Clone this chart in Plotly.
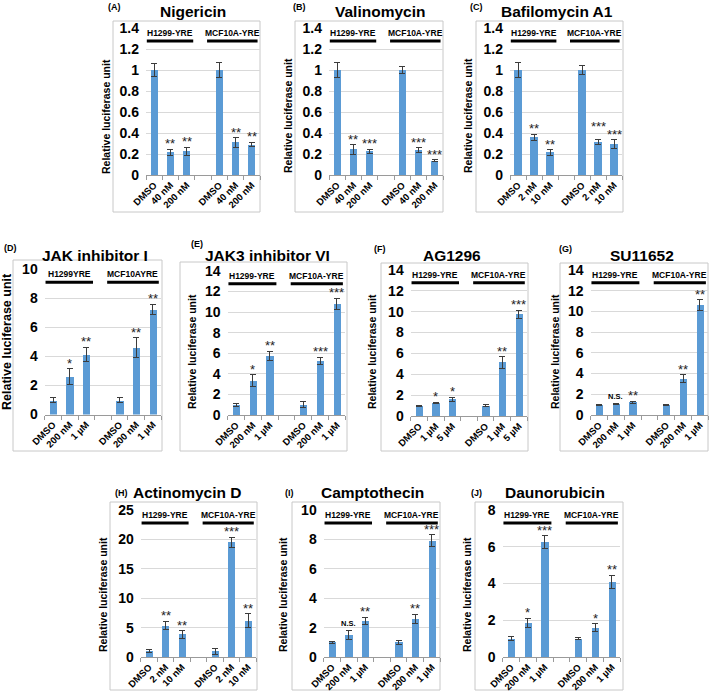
import plotly.graph_objects as go

W, H = 709, 694

# ---------------- data ----------------
titles = ["Nigericin", "Valinomycin", "Bafilomycin A1",
          "JAK inhibitor I", "JAK3 inhibitor VI", "AG1296", "SU11652",
          "Actinomycin D", "Camptothecin", "Daunorubicin"]
letters = ["(A)", "(B)", "(C)", "(D)", "(E)", "(F)", "(G)", "(H)", "(I)", "(J)"]

labels_A = ["DMSO", "40 nM", "200 nM", "DMSO", "40 nM", "200 nM"]
labels_B = ["DMSO", "40 nM", "200 nM", "DMSO", "40 nM", "200 nM"]
labels_C = ["DMSO", "2 nM", "10 nM", "DMSO", "2 nM", "10 nM"]
labels_D = ["DMSO", "200 nM", "1 µM", "DMSO", "200 nM", "1 µM"]
labels_E = ["DMSO", "200 nM", "1 µM", "DMSO", "200 nM", "1 µM"]
labels_F = ["DMSO", "1 µM", "5 µM", "DMSO", "1 µM", "5 µM"]
labels_G = ["DMSO", "200 nM", "1 µM", "DMSO", "200 nM", "1 µM"]
labels_H = ["DMSO", "2 nM", "10 nM", "DMSO", "2 nM", "10 nM"]
labels_I = ["DMSO", "200 nM", "1 µM", "DMSO", "200 nM", "1 µM"]
labels_J = ["DMSO", "200 nM", "1 µM", "DMSO", "200 nM", "1 µM"]

values_A = [1.0, 0.215, 0.225, 1.0, 0.31, 0.29]
errors_A = [0.065, 0.03, 0.04, 0.075, 0.045, 0.02]
stars_A = ["", "**", "**", "", "**", "**"]

values_B = [1.0, 0.245, 0.225, 1.0, 0.235, 0.135]
errors_B = [0.07, 0.045, 0.02, 0.035, 0.025, 0.01]
stars_B = ["", "**", "***", "", "***", "***"]

values_C = [1.0, 0.36, 0.215, 1.0, 0.315, 0.295]
errors_C = [0.075, 0.03, 0.025, 0.045, 0.02, 0.04]
stars_C = ["", "**", "**", "", "***", "***"]

values_D = [1.0, 2.6, 4.15, 1.0, 4.6, 7.25]
errors_D = [0.15, 0.55, 0.5, 0.15, 0.7, 0.35]
stars_D = ["", "*", "**", "", "**", "**"]

values_E = [1.0, 3.35, 5.75, 1.0, 5.25, 10.8]
errors_E = [0.15, 0.55, 0.45, 0.3, 0.35, 0.55]
stars_E = ["", "*", "**", "", "***", "***"]

values_F = [1.0, 1.25, 1.6, 1.0, 5.15, 9.75]
errors_F = [0.05, 0.05, 0.2, 0.1, 0.55, 0.4]
stars_F = ["", "*", "*", "", "**", "***"]

values_G = [1.0, 1.05, 1.25, 1.0, 3.5, 10.6]
errors_G = [0.05, 0.05, 0.1, 0.05, 0.4, 0.55]
stars_G = ["", "N.S.", "**", "", "**", "**"]

values_H = [1.0, 5.35, 3.85, 1.0, 19.5, 6.15]
errors_H = [0.3, 0.7, 0.65, 0.5, 0.9, 1.2]
stars_H = ["", "**", "**", "", "***", "**"]

values_I = [1.0, 1.5, 2.45, 1.0, 2.6, 7.9]
errors_I = [0.05, 0.3, 0.25, 0.15, 0.3, 0.4]
stars_I = ["", "N.S.", "**", "", "**", "***"]

values_J = [1.0, 1.85, 6.25, 1.0, 1.6, 4.1]
errors_J = [0.1, 0.25, 0.35, 0.05, 0.2, 0.35]
stars_J = ["", "*", "***", "", "*", "**"]

groups_std = ["H1299-YRE", "MCF10A-YRE"]
groups_D = ["H1299YRE", "MCF10AYRE"]

yticks_A = [0, 0.2, 0.4, 0.6, 0.8, 1.0, 1.2, 1.4]
yticks_D = [0, 2, 4, 6, 8, 10]
yticks_E = [0, 2, 4, 6, 8, 10, 12, 14]
yticks_H = [0, 5, 10, 15, 20, 25]
yticks_I = [0, 2, 4, 6, 8, 10]
yticks_J = [0, 2, 4, 6, 8]

# x positions of the bars (slot 3 is the gap between cell lines)
xpos = [0, 1, 2, 4, 5, 6]

# ---------------- layout geometry (pixels) ----------------
panels = [
    dict(v=values_A, e=errors_A, s=stars_A, lab=labels_A, yt=yticks_A, g=groups_std,
         plot=(146, 260, 28, 175), frame=(113, 21, 260, 212), title=(193, 12), letter=(106, 7), ytitle=(106, 116), ytsize=10.5),
    dict(v=values_B, e=errors_B, s=stars_B, lab=labels_B, yt=yticks_A, g=groups_std,
         plot=(329, 443, 28, 175), frame=(295, 21, 443, 212), title=(380, 12), letter=(291, 7), ytitle=(288, 116), ytsize=10.5),
    dict(v=values_C, e=errors_C, s=stars_C, lab=labels_C, yt=yticks_A, g=groups_std,
         plot=(510, 622, 28, 175), frame=(476, 21, 623, 212), title=(557, 12), letter=(468, 7), ytitle=(468, 116), ytsize=10.5),
    dict(v=values_D, e=errors_D, s=stars_D, lab=labels_D, yt=yticks_D, g=groups_D,
         plot=(44.7, 161.3, 269.5, 414.5), frame=(13, 260, 162, 451), title=(95, 255), letter=(2, 248), ytitle=(7, 342), ytsize=12.5),
    dict(v=values_E, e=errors_E, s=stars_E, lab=labels_E, yt=yticks_E, g=groups_std,
         plot=(227.6, 345.4, 271, 415), frame=(180, 262, 347, 451), title=(267, 255), letter=(189, 244), ytitle=(192, 352), ytsize=10.5),
    dict(v=values_F, e=errors_F, s=stars_F, lab=labels_F, yt=yticks_E, g=groups_std,
         plot=(410.7, 527.3, 270, 416), frame=(381, 263, 528, 451), title=(452, 255), letter=(372, 249), ytitle=(372, 352), ytsize=10.5),
    dict(v=values_G, e=errors_G, s=stars_G, lab=labels_G, yt=yticks_E, g=groups_std,
         plot=(590.6, 708.4, 270, 415), frame=(560, 263, 708, 451), title=(642, 255), letter=(557, 249), ytitle=(555, 352), ytsize=10.5),
    dict(v=values_H, e=errors_H, s=stars_H, lab=labels_H, yt=yticks_H, g=groups_std,
         plot=(140.75, 256.25, 510, 657), frame=(110, 502, 257, 690), title=(188, 492), letter=(113, 493), ytitle=(103, 595), ytsize=10.5),
    dict(v=values_I, e=errors_I, s=stars_I, lab=labels_I, yt=yticks_I, g=groups_std,
         plot=(323.7, 440.3, 510, 657), frame=(292, 502, 440, 690), title=(372, 492), letter=(283, 493), ytitle=(283, 595), ytsize=10.5),
    dict(v=values_J, e=errors_J, s=stars_J, lab=labels_J, yt=yticks_J, g=groups_std,
         plot=(502.6, 620.4, 510, 657), frame=(475, 502, 623, 690), title=(555, 492), letter=(469, 493), ytitle=(467, 595), ytsize=10.5),
]

# manual lift (px) of a few significance marks, as in the reference
star_lift = {(2, 4): 8}

FONT = "Liberation Sans, Arial, Helvetica, sans-serif"
BAR = "#5B9BD5"

fig = go.Figure()
annotations = []
shapes = []

def px(x):
    return x / W

def py(y):
    return 1 - y / H

for i, p in enumerate(panels):
    n = i + 1
    xa = "x" if n == 1 else f"x{n}"
    ya = "y" if n == 1 else f"y{n}"
    xname = "xaxis" if n == 1 else f"xaxis{n}"
    yname = "yaxis" if n == 1 else f"yaxis{n}"
    L, R, T, B = p["plot"]
    ymax = p["yt"][-1]

    fig.add_trace(go.Bar(
        x=xpos, y=p["v"], xaxis=xa, yaxis=ya, width=0.44,
        marker=dict(color=BAR, line=dict(width=0)),
        error_y=dict(type="data", array=p["e"], visible=True,
                     color="#3c3c3c", thickness=1, width=3),
        showlegend=False, hoverinfo="skip",
    ))

    fig.layout[xname] = dict(
        domain=[px(L), px(R)], anchor=ya, range=[-0.5, 6.5], automargin=False,
        tickmode="array", tickvals=xpos, ticktext=p["lab"], tickangle=-45,
        tickfont=dict(family=FONT, size=9.5, color="black", weight="bold"),
        ticks="", showgrid=False, zeroline=False,
        showline=True, linecolor="#9a9a9a", linewidth=1,
        minor=dict(tickvals=[-0.5, 0.5, 1.5, 2.5, 3.5, 4.5, 5.5, 6.5],
                   ticks="outside", ticklen=4, tickcolor="#9a9a9a", showgrid=False),
        fixedrange=True,
    )
    fig.layout[yname] = dict(
        domain=[py(B), py(T)], anchor=xa, range=[0, ymax], automargin=False,
        tickmode="array", tickvals=p["yt"],
        ticktext=[("%g" % t) for t in p["yt"]],
        tickfont=dict(family=FONT, size=14, color="black", weight="bold"),
        ticks="", ticklabelstandoff=6,
        showgrid=True, gridcolor="#d9d9d9", gridwidth=1,
        zeroline=False, showline=False, fixedrange=True,
    )

    # frame
    fx0, fy0, fx1, fy1 = p["frame"]
    shapes.append(dict(type="rect", xref="paper", yref="paper",
                       x0=px(fx0), x1=px(fx1), y0=py(fy1), y1=py(fy0),
                       line=dict(color="#c8c8c8", width=1), fillcolor="rgba(0,0,0,0)", layer="below"))

    # title & letter
    tx, ty = p["title"]
    annotations.append(dict(text=titles[i], xref="paper", yref="paper", x=px(tx), y=py(ty),
                            xanchor="center", yanchor="middle", showarrow=False,
                            font=dict(family=FONT, size=15.5, color="black", weight="bold")))
    lx, ly = p["letter"]
    annotations.append(dict(text=letters[i], xref="paper", yref="paper", x=px(lx), y=py(ly),
                            xanchor="left", yanchor="middle", showarrow=False,
                            font=dict(family=FONT, size=9, color="black", weight="bold")))
    # y title
    yx, yy = p["ytitle"]
    annotations.append(dict(text="Relative luciferase unit", xref="paper", yref="paper",
                            x=px(yx), y=py(yy), textangle=-90, xanchor="center", yanchor="middle",
                            showarrow=False,
                            font=dict(family=FONT, size=p["ytsize"], color="black", weight="bold")))

    # group bars and labels
    for (gx0, gx1), gname in zip([(-0.45, 2.4), (3.25, 6.35)], p["g"]):
        shapes.append(dict(type="line", xref=xa, yref=f"{ya} domain",
                           x0=gx0, x1=gx1, y0=0.912, y1=0.912,
                           line=dict(color="black", width=3)))
        annotations.append(dict(text=gname, xref=xa, yref=f"{ya} domain",
                                x=(gx0 + gx1) / 2, y=0.912, yshift=1,
                                xanchor="center", yanchor="bottom", showarrow=False,
                                font=dict(family=FONT, size=8.5, color="black", weight="bold")))

    # significance marks
    for k, (xv, v, e, s) in enumerate(zip(xpos, p["v"], p["e"], p["s"])):
        if not s:
            continue
        lift = star_lift.get((i, k), 0)
        if s == "N.S.":
            annotations.append(dict(text=s, xref=xa, yref=ya, x=xv, y=v + e, yshift=1 + lift,
                                    xanchor="center", yanchor="bottom", showarrow=False,
                                    font=dict(family=FONT, size=7.5, color="black", weight="bold")))
        else:
            annotations.append(dict(text=s, xref=xa, yref=ya, x=xv, y=v + e, yshift=-4 + lift,
                                    xanchor="center", yanchor="bottom", showarrow=False,
                                    font=dict(family=FONT, size=13, color="#222222")))

fig.update_layout(
    template="none",
    width=W, height=H, margin=dict(l=0, r=0, t=0, b=0, autoexpand=False),
    paper_bgcolor="white", plot_bgcolor="white",
    annotations=annotations, shapes=shapes, bargap=0,
    showlegend=False,
)

fig.write_html("out.html", config={"displayModeBar": False},
               post_script="document.body.style.margin='0';document.body.style.overflow='hidden';")
